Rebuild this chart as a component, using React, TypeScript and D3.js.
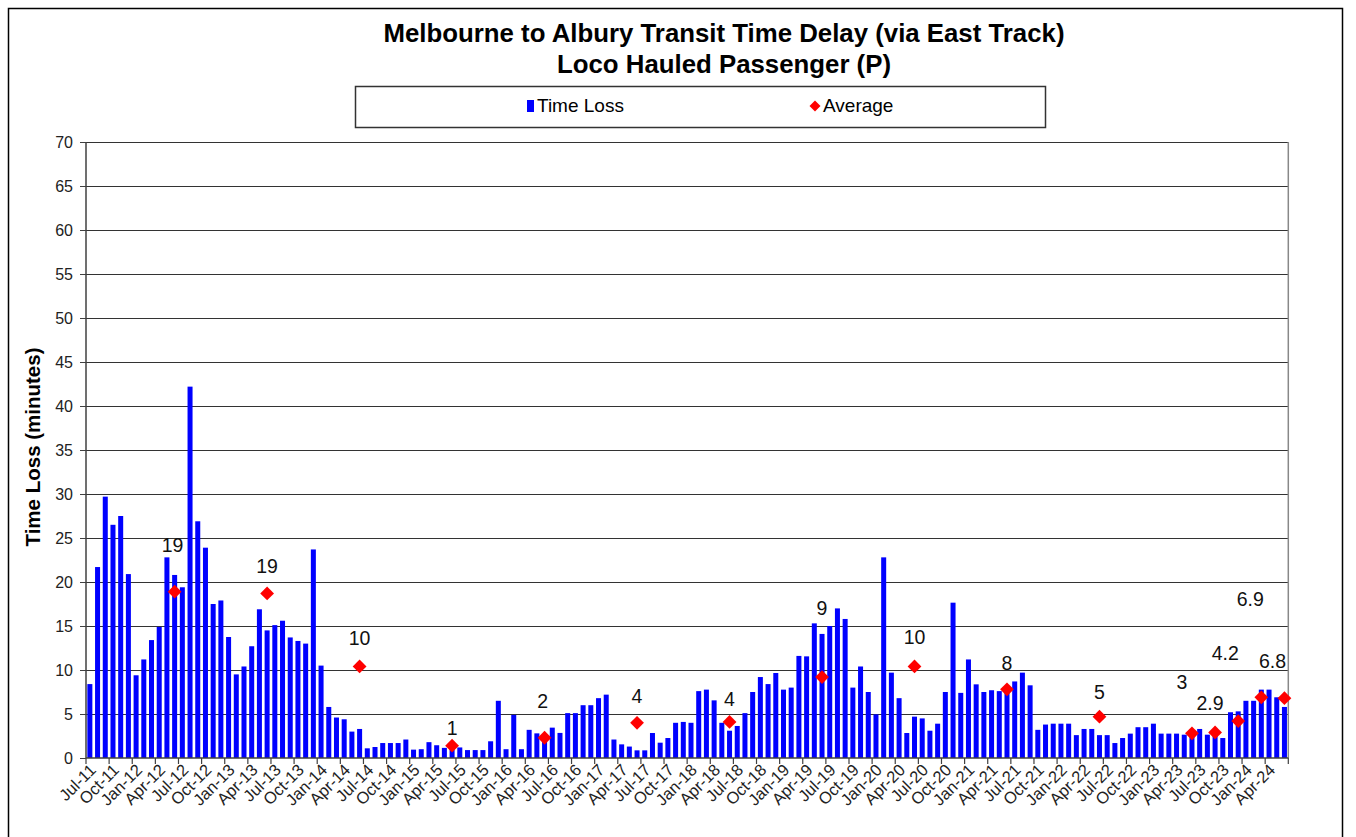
import React from 'react';
import * as d3 from 'd3';

// Categories: monthly Jul-11 .. Jun-24
const months: string[] = d3
  .timeMonths(new Date(2011, 6, 1), new Date(2024, 6, 1))
  .map(d3.timeFormat('%b-%y'));

// Monthly time loss (minutes)
const timeLoss: number[] = [
  8.4, 21.7, 29.7, 26.5, 27.5, 20.9, 9.4, 11.2, 13.4, 14.9, 22.8, 20.8,
  19.4, 42.2, 26.9, 23.9, 17.5, 17.9, 13.75, 9.5, 10.4, 12.7, 16.9, 14.5,
  15.1, 15.6, 13.7, 13.3, 13.0, 23.7, 10.5, 5.8, 4.6, 4.4, 3.0, 3.3,
  1.1, 1.25, 1.7, 1.7, 1.7, 2.1, 0.95, 1.0, 1.8, 1.45, 1.15, 1.3,
  1.2, 0.9, 0.9, 0.9, 1.9, 6.5, 1.0, 4.9, 1.0, 3.2, 2.8, 2.5,
  3.45, 2.85, 5.1, 5.1, 6.0, 6.0, 6.8, 7.2, 2.1, 1.55, 1.3, 0.87,
  0.87, 2.84, 1.74, 2.27, 4.0, 4.1, 4.0, 7.6, 7.77, 6.55, 4.0, 3.1,
  3.64, 5.1, 7.5, 9.2, 8.4, 9.66, 7.77, 8.0, 11.6, 11.55, 15.3, 14.1,
  15.0, 17.0, 15.8, 8.0, 10.4, 7.5, 4.96, 22.8, 9.7, 6.8, 2.84, 4.7,
  4.5, 3.1, 3.9, 7.5, 17.65, 7.4, 11.2, 8.37, 7.5, 7.7, 7.6, 7.7,
  8.7, 9.7, 8.26, 3.2, 3.8, 3.9, 3.9, 3.9, 2.6, 3.3, 3.3, 2.6,
  2.6, 1.7, 2.27, 2.77, 3.5, 3.5, 3.9, 2.77, 2.77, 2.77, 2.65, 2.6,
  3.3, 2.65, 2.6, 2.27, 5.2, 5.3, 6.5, 6.5, 7.77, 7.77, 6.9, 5.8,
];

// Average points
const avgMonths: string[] = [
  'Jun-12', 'Jun-13', 'Jun-14', 'Jun-15', 'Jun-16', 'Jun-17', 'Jun-18', 'Jun-19',
  'Jun-20', 'Jun-21', 'Jun-22', 'Jun-23', 'Sep-23', 'Dec-23', 'Mar-24', 'Jun-24',
];
const avgValues: number[] = [18.9, 18.7, 10.4, 1.4, 2.3, 4.0, 4.1, 9.2, 10.4, 7.8, 4.7, 2.8, 2.9, 4.2, 6.9, 6.8];
const avgLabels: string[] = ['19', '19', '10', '1', '2', '4', '4', '9', '10', '8', '5', '3', '2.9', '4.2', '6.9', '6.8'];
// label placement relative to marker (px)
const avgLabelOffsets: [number, number][] = [
  [-2, -47], [0, -27], [0, -28], [0, -18], [-2, -37], [0, -27], [0, -23], [0, -69],
  [0, -29], [0, -26], [0, -24], [-10, -51], [-5, -29], [-13, -68], [-11, -98], [-12, -37],
];

const yTicks: number[] = d3.range(0, 71, 5);

const FONT = '"Liberation Sans", Arial, sans-serif';

export default function App() {
  const W = 1356;
  const H = 837;
  const left = 86;
  const right = 1288.3;
  const top = 142;
  const bottom = 758;

  const x = d3.scaleBand<string>().domain(months).range([left, right]).paddingInner(0.35).paddingOuter(0.175);
  const y = d3.scaleLinear().domain([0, 70]).range([bottom, top]);
  const step = x.step();
  const bw = x.bandwidth();
  const cx = (m: string) => (x(m) as number) + bw / 2;

  const diamond = d3.symbol().type(d3.symbolSquare).size(95)() as string;

  const tickIdx = d3.range(0, months.length + 1, 3);

  return (
    <svg width={W} height={H} style={{ position: 'absolute', left: 0, top: 0, background: '#fff' }} fontFamily={FONT}>
      <rect x={0} y={0} width={W} height={H} fill="#fff" />
      {/* outer border */}
      <rect x={8.5} y={8.5} width={1334} height={850} fill="none" stroke="#000" strokeWidth={1.5} />

      {/* Title */}
      <text x={724} y={42} textAnchor="middle" fontSize={25.8} fontWeight="bold">
        Melbourne to Albury Transit Time Delay (via East Track)
      </text>
      <text x={724} y={73} textAnchor="middle" fontSize={25.8} fontWeight="bold">
        Loco Hauled Passenger (P)
      </text>

      {/* Legend */}
      <rect x={355.5} y={86.5} width={690} height={41} fill="#fff" stroke="#333" strokeWidth={1.5} />
      <rect x={527} y={100} width={7} height={12} fill="#0000ff" />
      <text x={537} y={112} fontSize={19}>Time Loss</text>
      <path d={diamond} transform={`translate(815,106) rotate(45) scale(0.8)`} fill="#ff0000" />
      <text x={823} y={112} fontSize={19}>Average</text>

      {/* gridlines */}
      {yTicks.filter((t) => t > 0).map((t) => (
        <line key={'g' + t} x1={left} x2={right} y1={Math.round(y(t)) + 0.5} y2={Math.round(y(t)) + 0.5} stroke="#333" strokeWidth={1} />
      ))}
      {/* right plot border */}
      <line x1={right} x2={right} y1={top} y2={bottom} stroke="#888" strokeWidth={1.5} />

      {/* y axis */}
      <line x1={left} x2={left} y1={top} y2={bottom} stroke="#404040" strokeWidth={1.5} />
      {yTicks.map((t) => (
        <g key={'yt' + t}>
          <line x1={left - 6} x2={left} y1={Math.round(y(t)) + 0.5} y2={Math.round(y(t)) + 0.5} stroke="#404040" strokeWidth={1} />
          <text x={73} y={y(t)} dy="0.35em" textAnchor="end" fontSize={16} fill="#222">{t}</text>
        </g>
      ))}
      <text transform={`translate(40,447) rotate(-90)`} textAnchor="middle" fontSize={20.5} fontWeight="bold">
        Time Loss (minutes)
      </text>

      {/* bars */}
      {timeLoss.map((v, i) => (
        <rect key={'b' + i} x={x(months[i])} y={y(v)} width={bw} height={bottom - y(v)} fill="#0000ff" />
      ))}

      {/* x axis */}
      <line x1={left} x2={right} y1={bottom} y2={bottom} stroke="#404040" strokeWidth={1.5} />
      {tickIdx.map((k) => (
        <line key={'xt' + k} x1={left + k * step} x2={left + k * step} y1={bottom} y2={bottom + 6} stroke="#404040" strokeWidth={1.2} />
      ))}
      {months.map((m, i) =>
        i % 3 === 0 ? (
          <text
            key={'xl' + i}
            transform={`translate(${cx(m) + 3},${bottom + 9}) rotate(-45)`}
            textAnchor="end"
            dy="0.35em"
            fontSize={16.5}
            fill="#222"
          >
            {m}
          </text>
        ) : null
      )}

      {/* averages */}
      {avgMonths.map((m, i) => (
        <path key={'a' + i} d={diamond} transform={`translate(${cx(m)},${y(avgValues[i])}) rotate(45)`} fill="#ff0000" />
      ))}
      {avgMonths.map((m, i) => (
        <text
          key={'al' + i}
          x={cx(m) + avgLabelOffsets[i][0]}
          y={y(avgValues[i]) + avgLabelOffsets[i][1]}
          dy="0.35em"
          textAnchor="middle"
          fontSize={19.5}
          fill="#111"
        >
          {avgLabels[i]}
        </text>
      ))}
    </svg>
  );
}
